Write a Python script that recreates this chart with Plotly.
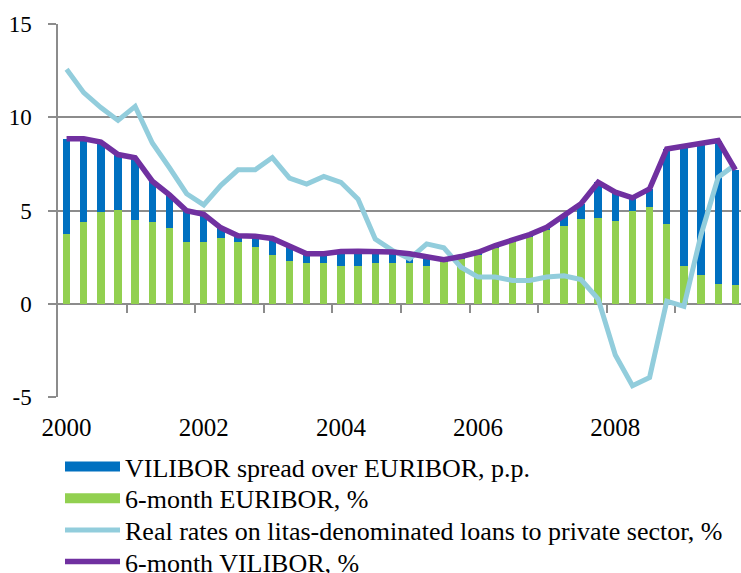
import plotly.graph_objects as go

# Quarterly observations, 2000 Q1 - 2009 Q4
quarters = [f"{y}Q{q}" for y in range(2000, 2010) for q in range(1, 5)]

euribor_6m = [3.72, 4.38, 4.91, 5.02, 4.48, 4.38, 4.04, 3.30,
              3.30, 3.53, 3.33, 3.03, 2.60, 2.28, 2.17, 2.17,
              2.05, 2.05, 2.17, 2.17, 2.17, 2.05, 2.23, 2.41,
              2.64, 3.00, 3.30, 3.60, 3.93, 4.19, 4.52, 4.62,
              4.43, 4.96, 5.18, 4.30, 2.05, 1.52, 1.07, 0.98]

vilibor_spread = [5.13, 4.47, 3.76, 2.98, 3.35, 2.19, 1.80, 1.69,
                  1.50, 0.54, 0.31, 0.59, 0.90, 0.84, 0.51, 0.51,
                  0.75, 0.77, 0.63, 0.61, 0.51, 0.45, 0.13, 0.12,
                  0.12, 0.12, 0.13, 0.11, 0.17, 0.56, 0.84, 1.89,
                  1.55, 0.72, 0.98, 4.00, 6.38, 7.05, 7.68, 6.20]

vilibor_6m = [8.85, 8.85, 8.67, 8.00, 7.83, 6.57, 5.84, 4.99,
              4.80, 4.07, 3.64, 3.62, 3.50, 3.12, 2.68, 2.68,
              2.80, 2.82, 2.80, 2.78, 2.68, 2.50, 2.36, 2.53,
              2.76, 3.12, 3.43, 3.71, 4.10, 4.75, 5.36, 6.51,
              5.98, 5.68, 6.16, 8.30, 8.43, 8.57, 8.75, 7.18]

real_rates = [12.57, 11.32, 10.52, 9.83, 10.58, 8.62, 7.29, 5.90,
              5.30, 6.35, 7.18, 7.18, 7.84, 6.74, 6.42, 6.83,
              6.51, 5.60, 3.47, 2.86, 2.41, 3.21, 3.00, 1.96,
              1.43, 1.43, 1.25, 1.25, 1.43, 1.50, 1.30, 0.25,
              -2.75, -4.40, -3.95, 0.14, -0.14, 3.70, 6.78, 7.46]

year_labels = ["2000", "2002", "2004", "2006", "2008"]
y_ticks = [-5, 0, 5, 10, 15]

BLUE = "#0070C0"
GREEN = "#92D050"
LIGHT_BLUE = "#92CDDC"
PURPLE = "#7030A0"
GRID = "#8C8C8C"
FONT = "Liberation Serif"

W, H = 741, 573
idx = list(range(len(quarters)))

fig = go.Figure()

# stacked bars: EURIBOR at the bottom, spread on top
fig.add_trace(go.Bar(x=idx, y=euribor_6m, marker_color=GREEN, marker_line_width=0,
                     showlegend=False, hovertext=quarters, name="6-month EURIBOR, %"))
fig.add_trace(go.Bar(x=idx, y=vilibor_spread, marker_color=BLUE, marker_line_width=0,
                     showlegend=False, hovertext=quarters,
                     name="VILIBOR spread over EURIBOR, p.p."))

# legend entries for the bars, drawn as wide swatches
fig.add_trace(go.Scatter(x=[None], y=[None], mode="lines", line=dict(color=BLUE, width=11),
                         name="VILIBOR spread over EURIBOR, p.p.", legend="legend"))
fig.add_trace(go.Scatter(x=[None], y=[None], mode="lines", line=dict(color=GREEN, width=11),
                         name="6-month EURIBOR, %", legend="legend2"))

# lines on the overlaid axis so they sit above the bars
fig.add_trace(go.Scatter(x=idx, y=real_rates, mode="lines", xaxis="x2",
                         line=dict(color=LIGHT_BLUE, width=5),
                         hovertext=quarters, legend="legend3",
                         name="Real rates on litas-denominated loans to private sector, %"))
fig.add_trace(go.Scatter(x=idx, y=vilibor_6m, mode="lines", xaxis="x2",
                         line=dict(color=PURPLE, width=5.5),
                         hovertext=quarters, legend="legend4", name="6-month VILIBOR, %"))

x_range = [-0.5, 39.33]
year_pos = [quarters.index(f"{y}Q1") for y in year_labels]
boundary_ticks = [i - 0.5 for i in range(4, len(quarters), 4)]


def legend_row(center_px):
    return dict(xref="container", yref="container", x=60 / W, xanchor="left",
                y=1 - center_px / H, yanchor="middle", bgcolor="rgba(0,0,0,0)",
                font=dict(family=FONT, size=26, color="black"), itemwidth=55)


fig.update_layout(
    width=W, height=H,
    margin=dict(l=58, r=0, t=24, b=176, autoexpand=False),
    paper_bgcolor="white", plot_bgcolor="white",
    barmode="stack", bargap=0.57,
    font=dict(family=FONT, color="black", size=20),
    xaxis=dict(type="linear", range=x_range, showgrid=False, zeroline=False,
               showline=False, ticks="", tickvals=year_pos, ticktext=year_labels,
               tickfont=dict(family=FONT, size=25, color="black"),
               ticklabelstandoff=13),
    xaxis2=dict(type="linear", overlaying="x", matches="x", anchor="free", position=0.25,
                showgrid=False, zeroline=False, showline=True, linecolor=GRID, linewidth=1.5,
                ticks="outside", ticklen=8, tickwidth=1.5, tickcolor=GRID,
                tickvals=boundary_ticks, showticklabels=False, layer="below traces"),
    yaxis=dict(range=[-5, 15], tickvals=y_ticks, ticktext=[str(v) for v in y_ticks],
               showgrid=True, gridcolor=GRID, gridwidth=1.5, zeroline=False,
               showline=True, linecolor=GRID, linewidth=1.5,
               ticks="outside", ticklen=8, tickwidth=1.5, tickcolor=GRID,
               tickfont=dict(family=FONT, size=23, color="black"),
               ticklabelstandoff=12),
    legend=legend_row(466.7),
    legend2=legend_row(498.3),
    legend3=legend_row(530.0),
    legend4=legend_row(561.7),
    showlegend=True,
)

fig.write_html("out.html")
